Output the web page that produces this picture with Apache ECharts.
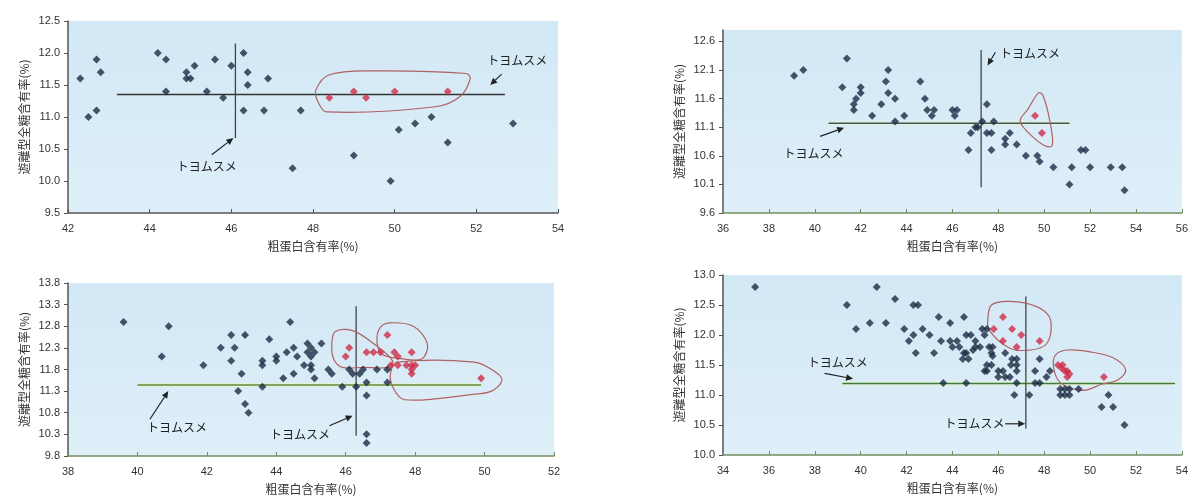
<!DOCTYPE html>
<html><head><meta charset="utf-8">
<script src="https://cdn.jsdelivr.net/npm/echarts@6/dist/echarts.min.js"></script>
<style>html,body{margin:0;padding:0;background:#fff}#c{width:1191px;height:496px}</style>
</head><body><div id="c"></div>
<script>
// ---------- data ----------
const xTitle = '粗蛋白含有率(%)';
const yTitle = '遊離型全糖含有率(%)';
const noteText = 'トヨムスメ';

// Panel 1 (top-left)
const p1Blue = [[42.3,11.6],[42.7,11.9],[42.8,11.7],[42.5,11.0],[42.7,11.1],
 [44.2,12.0],[44.4,11.9],[44.4,11.4],[44.9,11.7],[45.1,11.8],[44.9,11.6],[45.0,11.6],
 [45.6,11.9],[45.4,11.4],[45.8,11.3],[46.0,11.8],[46.3,12.0],[46.4,11.7],[46.4,11.5],[46.3,11.1],
 [46.8,11.1],[46.9,11.6],[47.7,11.1],[47.5,10.2],[49.0,10.4],[50.1,10.8],[50.5,10.9],[50.9,11.0],
 [51.3,10.6],[49.9,10.0],[52.9,10.9]];
const p1Red = [[48.4,11.3],[49.0,11.4],[49.3,11.3],[50.0,11.4],[51.3,11.4]];
const p1HLine = [[43.2,11.35],[52.7,11.35]];
const p1VLine = [[46.1,12.15],[46.1,10.67]];
const p1Loops = [[[48.07,11.42],[48.4,11.66],[49.5,11.72],[51.75,11.68],[51.85,11.6],[51.6,11.32],[51.0,11.16],[48.33,11.08],[48.12,11.24]]];
const p1Notes = [[45.4,10.23],[53.0,11.89]];
const p1Arrows = [[45.52,10.41,46.05,10.67],[52.62,11.67,52.34,11.5]];

// Panel 2 (top-right)
const p2Blue = [[39.1,12.0],[39.5,12.1],[41.4,12.3],[41.2,11.8],[42.0,11.8],[42.0,11.7],[41.8,11.6],[41.7,11.5],[41.7,11.4],
 [42.5,11.3],[42.9,11.5],[43.2,12.1],[43.1,11.9],[43.2,11.7],[43.5,11.6],[43.5,11.2],[43.9,11.3],
 [44.6,11.9],[44.8,11.6],[44.9,11.4],[45.2,11.4],[45.1,11.3],[46.0,11.4],[46.2,11.4],[46.1,11.3],
 [47.3,11.2],[47.1,11.1],[47.0,11.1],[46.8,11.0],[46.7,10.7],[47.5,11.5],[47.8,11.2],[47.5,11.0],[47.7,11.0],[47.7,10.7],
 [48.5,11.0],[48.3,10.9],[48.3,10.8],[48.8,10.8],[49.2,10.6],[49.7,10.6],[49.8,10.5],[50.4,10.4],[51.2,10.4],[51.1,10.1],
 [51.6,10.7],[51.8,10.7],[52.0,10.4],[52.9,10.4],[53.4,10.4],[53.5,10.0]];
const p2Red = [[49.6,11.3],[49.9,11.0]];
const p2HLine = [[40.6,11.17],[51.1,11.17]];
const p2VLine = [[47.25,12.45],[47.25,10.05]];
const p2Loops = [[[49.75,11.7],[49.3,11.42],[48.95,11.22],[49.2,11.05],[50.0,10.78],[50.35,10.78],[50.25,11.2],[49.95,11.65]]];
const p2Notes = [[49.38,12.39],[39.94,10.65]];
const p2Arrows = [[47.87,12.41,47.53,12.18],[40.23,10.94,41.28,11.09]];

// Panel 3 (bottom-left)
const p3Blue = [[39.6,12.9],[40.9,12.8],[40.7,12.1],[41.9,11.9],[42.7,12.6],[43.1,12.6],[42.4,12.3],[42.8,12.3],[42.7,12.0],
 [43.0,11.7],[42.9,11.3],[43.1,11.0],[43.2,10.8],[43.6,11.4],[43.6,12.0],[43.6,11.9],[43.8,12.5],[44.0,12.1],[44.0,12.0],
 [44.2,11.6],[44.3,12.2],[44.4,12.9],[44.5,12.3],[44.6,12.1],[44.5,11.7],[44.9,12.4],[45.3,12.4],[45.0,12.3],[44.9,12.2],
 [45.1,12.2],[45.0,12.1],[45.0,11.9],[45.0,11.8],[45.1,11.6],[44.8,11.9],[45.5,11.8],[45.6,11.7],[45.9,11.4],[46.1,11.8],
 [46.2,11.7],[46.4,11.7],[46.5,11.8],[46.3,11.4],[46.6,11.5],[46.6,11.2],[46.6,10.3],[46.6,10.1],[46.9,11.8],[47.2,11.5],[47.2,11.8]];
const p3Red = [[46.1,12.3],[46.0,12.1],[46.6,12.2],[46.8,12.2],[47.0,12.2],[47.2,12.6],[47.4,12.2],[47.5,12.1],[47.9,12.2],
 [47.3,11.9],[47.5,11.9],[47.75,11.9],[47.9,11.9],[48.0,11.9],[47.9,11.8],[47.9,11.7],[49.9,11.6]];
const p3HLine = [[40.0,11.44],[49.9,11.44]];
const p3VLine = [[46.3,13.26],[46.3,10.27]];
const p3Loops = [
 [[45.7,12.68],[46.2,12.7],[46.8,12.4],[47.35,12.0],[47.2,11.85],[46.5,11.85],[45.9,11.85],[45.65,12.05],[45.6,12.4]],
 [[47.0,12.78],[47.3,12.88],[47.95,12.8],[48.35,12.4],[48.2,12.05],[47.6,12.05],[47.05,12.15],[46.9,12.45]],
 [[47.3,11.75],[47.5,11.97],[49.7,11.97],[50.3,11.75],[50.5,11.55],[50.2,11.3],[49.6,11.22],[47.7,11.1],[47.35,11.4]]];
const p3Notes = [[41.14,10.47],[44.68,10.31]];
const p3Arrows = [[40.36,10.65,40.89,11.3],[45.53,10.5,46.2,10.73]];

// Panel 4 (bottom-right)
const p4Blue = [[35.4,12.8],[39.4,12.5],[39.8,12.1],[40.4,12.2],[40.7,12.8],[41.1,12.2],[41.5,12.6],[41.9,12.1],[42.3,12.5],[42.5,12.5],
 [42.1,11.9],[42.3,12.0],[42.4,11.7],[42.7,12.1],[43.0,12.0],[43.2,11.7],[43.4,12.3],[43.9,12.2],[44.5,12.3],
 [43.5,11.9],[43.9,11.9],[44.2,11.9],[44.0,11.8],[44.3,11.8],[44.6,12.0],[44.5,11.7],[44.6,11.7],[44.9,11.75],[44.45,11.6],[44.7,11.6],
 [44.8,12.0],[45.0,11.9],[45.0,11.8],[45.2,11.8],[45.3,12.1],[45.5,12.1],[45.4,12.0],
 [45.6,11.8],[45.75,11.8],[45.7,11.7],[45.75,11.65],[45.5,11.5],[45.7,11.5],[45.4,11.4],[45.5,11.4],
 [46.0,11.3],[46.3,11.3],[46.5,11.3],[46.0,11.4],[46.2,11.4],[46.3,11.7],[46.6,11.6],[46.8,11.6],[46.55,11.5],[46.8,11.5],[46.8,11.4],
 [43.6,11.2],[44.6,11.2],[46.8,11.2],[46.7,11.0],[47.35,11.0],[47.6,11.4],[47.8,11.6],[47.6,11.2],[47.8,11.2],[48.1,11.3],[48.25,11.4],
 [48.7,11.1],[48.9,11.1],[49.1,11.1],[48.7,11.0],[48.9,11.0],[49.1,11.0],[49.5,11.1],[50.8,11.0],[50.5,10.8],[51.0,10.8],[51.5,10.5]];
const p4Red = [[45.8,12.1],[46.2,12.3],[46.6,12.1],[47.0,12.0],[46.2,11.9],[46.8,11.8],[47.8,11.9],
 [48.6,11.5],[48.8,11.5],[48.9,11.4],[49.0,11.4],[49.1,11.35],[49.0,11.3],[48.75,11.45],[50.6,11.3]];
const p4HLine = [[39.2,11.19],[53.7,11.19]];
const p4VLine = [[47.2,12.64],[47.2,10.44]];
const p4Loops = [
 [[45.7,12.5],[46.3,12.56],[47.2,12.53],[48.0,12.4],[48.3,12.2],[48.1,11.85],[47.4,11.75],[46.5,11.78],[45.6,12.08],[45.55,12.3]],
 [[48.4,11.5],[48.5,11.67],[49.0,11.75],[50.0,11.72],[51.0,11.62],[51.55,11.42],[51.2,11.25],[50.5,11.18],[49.8,11.08],[49.1,11.12],[48.6,11.25]]];
const p4Notes = [[39.0,11.55],[44.96,10.52]];
const p4Arrows = [[38.43,11.36,39.67,11.27],[46.3,10.52,47.17,10.52]];

// ---------- chart ----------
const FONT = '"Liberation Sans", Arial, sans-serif';
const JFONT = '"Noto Sans CJK JP", sans-serif';
const panels = [
 {grid:{left:68,top:21,width:490,height:192}, x:[42,54,2], y:[9.5,12.5,0.5], blue:p1Blue, red:p1Red, h:p1HLine, v:p1VLine,
  loops:p1Loops, notes:p1Notes, arrows:p1Arrows, hColor:'#333', halo:false, xLine:'#555'},
 {grid:{left:723,top:30,width:462,height:183}, x:[36,56,2], y:[9.6,12.8,0.5], hideMax:true, blue:p2Blue, red:p2Red, h:p2HLine, v:p2VLine,
  loops:p2Loops, notes:p2Notes, arrows:p2Arrows, hColor:'#3c5560', halo:true, xLine:'#6f8f5f'},
 {grid:{left:68,top:283,width:486,height:174}, x:[38,52,2], y:[9.8,13.8,0.5], blue:p3Blue, red:p3Red, h:p3HLine, v:p3VLine,
  loops:p3Loops, notes:p3Notes, arrows:p3Arrows, hColor:'#5f8a3a', halo:true, xLine:'#6f8f5f'},
 {grid:{left:723,top:275,width:460,height:180}, x:[34,54,2], y:[10.0,13.0,0.5], blue:p4Blue, red:p4Red, h:p4HLine, v:p4VLine,
  loops:p4Loops, notes:p4Notes, arrows:p4Arrows, hColor:'#3f7a45', halo:true, xLine:'#6f8f5f'}
];

const option = {animation:false, backgroundColor:'#fff', grid:[], xAxis:[], yAxis:[], series:[]};
panels.forEach((p,i)=>{
  option.grid.push(Object.assign({show:true, borderWidth:0,
    backgroundColor:{type:'linear',x:0,y:0,x2:0,y2:1,colorStops:[{offset:0,color:'#d2e8f5'},{offset:1,color:'#deeff9'}]}}, p.grid));
  option.xAxis.push({gridIndex:i, type:'value', min:p.x[0], max:p.x[1], interval:p.x[2],
    name:xTitle, nameLocation:'middle', nameGap:27, nameTextStyle:{fontFamily:JFONT, fontSize:12, color:'#333'},
    axisLine:{lineStyle:{color:p.xLine, width:1.5}}, axisTick:{inside:true, length:4, lineStyle:{color:p.xLine}},
    axisLabel:{fontFamily:FONT, fontSize:11, color:'#333', margin:10}, splitLine:{show:false}});
  option.yAxis.push({gridIndex:i, type:'value', min:p.y[0], max:p.y[1], interval:p.y[2],
    name:yTitle, nameLocation:'middle', nameGap:38, nameRotate:90, nameTextStyle:{fontFamily:JFONT, fontSize:12, color:'#333'},
    axisLine:{show:true, lineStyle:{color:'#555', width:1.5}}, axisTick:{show:true, length:4, lineStyle:{color:'#555'}},
    axisLabel:{fontFamily:FONT, fontSize:11, color:'#333', margin:8, showMaxLabel: p.hideMax ? false : null,
      formatter:v=>v.toFixed(1)}, splitLine:{show:false}});
  if (p.halo) option.series.push({type:'line', xAxisIndex:i, yAxisIndex:i, data:p.h, symbol:'none', silent:true, z:1,
    lineStyle:{color:'#e6f5cf', width:4, opacity:0.85}});
  option.series.push({type:'line', xAxisIndex:i, yAxisIndex:i, data:p.h, symbol:'none', silent:true, z:2,
    lineStyle:{color:p.hColor, width:1.5}});
  option.series.push({type:'line', xAxisIndex:i, yAxisIndex:i, data:p.v, symbol:'none', silent:true, z:2,
    lineStyle:{color:'#444', width:1.3}});
  option.series.push({type:'scatter', xAxisIndex:i, yAxisIndex:i, data:p.blue, symbol:'diamond', symbolSize:8, z:4,
    itemStyle:{color:'#1c2c45'}});
  option.series.push({type:'scatter', xAxisIndex:i, yAxisIndex:i, data:p.red, symbol:'diamond', symbolSize:8, z:5,
    itemStyle:{color:'#d02c48'}});
  const loops = p.loops;
  option.series.push({type:'custom', xAxisIndex:i, yAxisIndex:i, silent:true, z:3,
    data:loops.map(l=>[l[0][0], l[0][1]]),
    renderItem:(params, api)=>({type:'polygon', shape:{points:loops[params.dataIndex].map(pt=>api.coord(pt)), smooth:0.35},
      style:{fill:null, stroke:'#b06262', lineWidth:1.2}})});
  option.series.push({type:'custom', xAxisIndex:i, yAxisIndex:i, silent:true, z:6,
    data:p.notes,
    renderItem:(params, api)=>{const c=api.coord([api.value(0),api.value(1)]);
      return {type:'text', x:c[0], y:c[1], style:{text:noteText, fontFamily:JFONT, fontSize:12, fill:'#222', align:'center', verticalAlign:'middle'}};}});
  option.series.push({type:'custom', xAxisIndex:i, yAxisIndex:i, silent:true, z:6,
    data:p.arrows, encode:{x:[0,2], y:[1,3]},
    renderItem:(params, api)=>{
      const a=api.coord([api.value(0),api.value(1)]), b=api.coord([api.value(2),api.value(3)]);
      const ang=Math.atan2(b[1]-a[1], b[0]-a[0]), L=7, W=3.2;
      const bx=b[0]-L*Math.cos(ang), by=b[1]-L*Math.sin(ang);
      const px=-Math.sin(ang)*W, py=Math.cos(ang)*W;
      return {type:'group', children:[
        {type:'line', shape:{x1:a[0],y1:a[1],x2:bx,y2:by}, style:{stroke:'#222', lineWidth:1.2}},
        {type:'polygon', shape:{points:[[b[0],b[1]],[bx+px,by+py],[bx-px,by-py]]}, style:{fill:'#222'}}]};
    }});
});
const chart = echarts.init(document.getElementById('c'), null, {renderer:'canvas'});
chart.setOption(option);
</script></body></html>
